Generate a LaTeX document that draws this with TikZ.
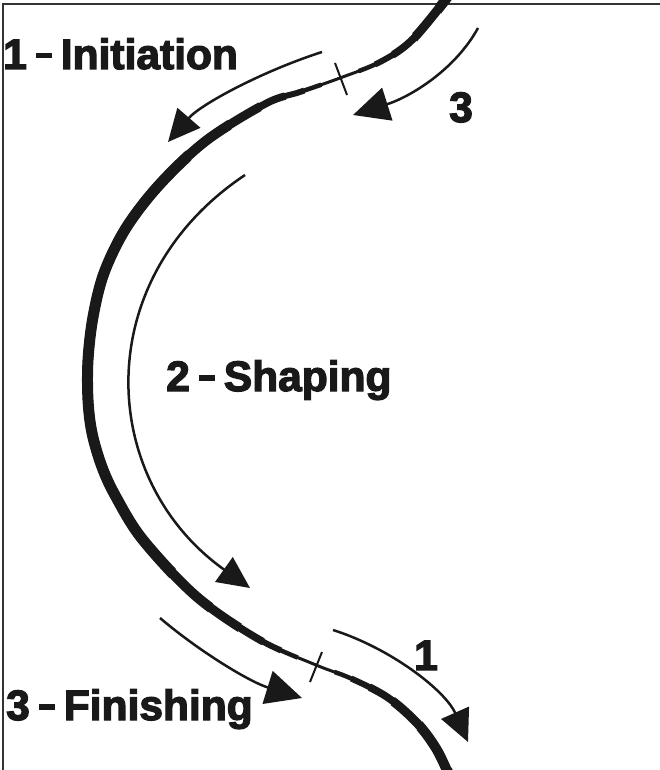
\documentclass[tikz,border=0pt]{standalone}
\usepackage{fontspec}
\setmainfont{Liberation Sans}
\newfontfamily\heavyfont{Liberation Sans}[BoldFeatures={FakeBold=3}]
\usetikzlibrary{arrows.meta}
\newcommand\bdash{\rule[10.5pt]{16pt}{5.5pt}}
\newcommand\lab[2]{#1\hspace{9.5pt}\bdash\hspace{8.5pt}#2}
\begin{document}
\begin{tikzpicture}[x=1pt,y=-1pt,
  lbl/.style={anchor=base west, inner sep=0pt, font=\heavyfont\bfseries\fontsize{42.5}{48}\selectfont, text=black!90},
  arr/.style={line width=2.5pt, draw=black!90, -{Triangle[length=32pt,width=30pt]}},
  arrbig/.style={line width=2.5pt, draw=black!90, -{Triangle[length=36pt,width=34pt]}},
  tickmark/.style={line width=2pt, draw=black!90},
  frameline/.style={line width=1.5pt, draw=black!80}]
\useasboundingbox (0,0) rectangle (660,770);
\fill[white] (0,0) rectangle (660,770);
% frame
\coordinate (fb) at (3,771);
\coordinate (fc) at (3,4);
\coordinate (fr) at (661,4);
\draw[frameline] (fb) -- (fc) -- (fr);
% main tapered curve
\foreach \w/\r in {3/0,4.5/20,6/38,7.5/58,9/85,10/120,11/170} {
  \begin{scope}[even odd rule]
    \clip (-10,-10) rectangle (670,780) (340,78) circle[radius=\r pt] (316,665) circle[radius=\r pt];
    \draw[line width=\w pt, black!90] plot[smooth,tension=0.55] coordinates {(450,-6) (412,40) (380,62) (340,78) (300,92) (267,103) (207,140) (160,184) (126,228) (104,273) (93,317) (88,360) (88,400) (92,433) (102,467) (116,497) (143,540) (197,597) (260,640) (316,665) (350,678) (387,697) (417,723) (437,750) (451,780)};
  \end{scope}
}
% ticks
\coordinate (t1a) at (335,63); \coordinate (t1b) at (347,95);
\coordinate (t2a) at (322,652); \coordinate (t2b) at (310,682);
\draw[tickmark] (t1a) -- (t1b);
\draw[tickmark] (t2a) -- (t2b);
% arrows
\coordinate (a1s) at (322,52); \coordinate (a1e) at (168,142);
\draw[arr] (a1s) .. controls (260,72) and (200,105) .. (a1e);
\coordinate (a2s) at (478,28); \coordinate (a2e) at (353,115);
\draw[arrbig] (a2s) .. controls (455,70) and (410,97) .. (a2e);
\coordinate (a3s) at (245,175); \coordinate (a3e) at (250,588);
\draw[arr] (a3s) .. controls (88,280) and (98,480) .. (a3e);
\coordinate (a4s) at (160,618); \coordinate (a4e) at (302,698);
\draw[arrbig] (a4s) .. controls (200,652) and (250,682) .. (a4e);
\coordinate (a5s) at (333,630); \coordinate (a5e) at (468,742);
\draw[arr] (a5s) .. controls (390,648) and (445,690) .. (a5e);
% labels
\node[lbl] (l1) at (3,69) {\lab{1}{Initiation}};
\node[lbl] (l2) at (166,391) {\lab{2}{Shaping}};
\node[lbl] (l3) at (6,720) {\lab{3}{Finishing}};
\node[lbl] (n3) at (449,122) {3};
\node[lbl] (n1) at (414,670) {1};
\end{tikzpicture}
\end{document}
